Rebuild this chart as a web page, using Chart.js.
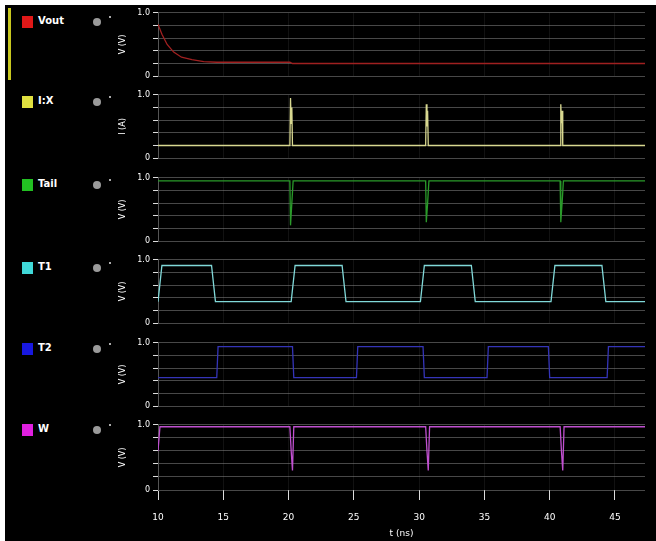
<!DOCTYPE html>
<html>
<head>
<meta charset="utf-8">
<script src="https://cdn.jsdelivr.net/npm/chart.js@4.4.0/dist/chart.umd.min.js"></script>
<style>
  html, body { margin: 0; padding: 0; background: #fff; }
  #frame { position: absolute; left: 0; top: 0; width: 656px; height: 541px; background: #000; overflow: hidden; }
  .edge { position: absolute; background: #fff; }
  canvas { position: absolute; left: 0; }
  .sw { position: absolute; left: 22px; width: 11px; height: 12px; }
  .name { position: absolute; left: 38px; color: #fff; font: bold 10px "DejaVu Sans", sans-serif; }
  .dot { position: absolute; left: 93px; width: 8px; height: 8px; border-radius: 50%; background: #9a9a9a; }
  .pip { position: absolute; left: 109px; width: 2px; height: 2px; background: #aaa; }
  #sel { position: absolute; left: 8px; top: 8px; width: 3px; height: 72px; background: #c8c820; }
</style>
</head>
<body>
<div id="frame">
  <div class="edge" style="left:0;top:0;width:5px;height:541px"></div>
  <div class="edge" style="left:0;top:0;width:656px;height:5px"></div>
  <div id="sel"></div>
</div>
<script>
// signal names and colours
const names = ["Vout", "I:X", "Tail", "T1", "T2", "W"];
const swatchColors = ["#e01818", "#e0e040", "#22c022", "#40d8d8", "#1818e0", "#e020e0"];
const traceColors = ["#a02020", "#d8d890", "#2a9a2a", "#80d8d8", "#3434b8", "#c050d0"];
const yTitles = ["V (V)", "I (A)", "V (V)", "V (V)", "V (V)", "V (V)"];

// time axis
const xTicks = [10, 15, 20, 25, 30, 35, 40, 45];
const xTickLabels = ["10", "15", "20", "25", "30", "35", "40", "45"];
const xMin = 10, xMax = 47.3;
const xTitle = "t (ns)";

// waveforms (time, value)
const redT = [10, 10.3, 10.7, 11.2, 11.8, 12.6, 13.5, 14.5, 20.1, 20.3, 47.3];
const redV = [0.82, 0.66, 0.5, 0.38, 0.3, 0.26, 0.23, 0.22, 0.22, 0.2, 0.2];

const yelT = [10, 20.1, 20.15, 20.2, 20.25, 20.3, 30.5, 30.55, 30.6, 30.65, 30.7, 40.8, 40.85, 40.9, 40.95, 41.0, 47.3];
const yelV = [0.2, 0.2, 0.95, 0.55, 0.8, 0.2, 0.2, 0.85, 0.5, 0.75, 0.2, 0.2, 0.85, 0.55, 0.75, 0.2, 0.2];

const grnT = [10, 20.1, 20.15, 20.25, 20.35, 30.5, 30.55, 30.65, 30.75, 40.8, 40.85, 40.95, 41.05, 47.3];
const grnV = [0.95, 0.95, 0.25, 0.6, 0.95, 0.95, 0.3, 0.6, 0.95, 0.95, 0.3, 0.6, 0.95, 0.95];

const cyaT = [10, 10.3, 14.1, 14.4, 20.2, 20.5, 24.1, 24.4, 30.1, 30.4, 34.0, 34.3, 40.1, 40.4, 44.0, 44.3, 47.3];
const cyaV = [0.34, 0.91, 0.91, 0.34, 0.34, 0.91, 0.91, 0.34, 0.34, 0.91, 0.91, 0.34, 0.34, 0.91, 0.91, 0.34, 0.34];

const bluT = [10, 14.5, 14.6, 20.3, 20.4, 25.2, 25.3, 30.3, 30.4, 35.2, 35.3, 39.9, 40.0, 44.4, 44.5, 47.3];
const bluV = [0.45, 0.45, 0.94, 0.94, 0.45, 0.45, 0.94, 0.94, 0.45, 0.45, 0.94, 0.94, 0.45, 0.45, 0.94, 0.94];

const magT = [10, 10.15, 20.1, 20.2, 20.3, 20.4, 30.5, 30.6, 30.7, 30.8, 40.8, 40.9, 41.0, 41.1, 47.3];
const magV = [0.6, 0.97, 0.97, 0.6, 0.3, 0.97, 0.97, 0.6, 0.3, 0.97, 0.97, 0.6, 0.3, 0.97, 0.97];

const times = [redT, yelT, grnT, cyaT, bluT, magT];
const values = [redV, yelV, grnV, cyaV, bluV, magV];

// layout: plot tops of each strip, legend row centres
const plotTops = [11, 93, 176, 258, 341, 423];
const legendY = [22, 102, 185, 268, 349, 430];
const plotH = 67;
const pad = 6;

const frame = document.getElementById("frame");
const font = { family: "DejaVu Sans", size: 8 };

for (let i = 0; i < names.length; i++) {
  // legend entry on the left
  const sw = document.createElement("div");
  sw.className = "sw";
  sw.style.top = legendY[i] - 6 + "px";
  sw.style.background = swatchColors[i];
  frame.appendChild(sw);

  const nm = document.createElement("div");
  nm.className = "name";
  nm.style.top = legendY[i] - 7 + "px";
  nm.textContent = names[i];
  frame.appendChild(nm);

  const dot = document.createElement("div");
  dot.className = "dot";
  dot.style.top = legendY[i] - 4 + "px";
  frame.appendChild(dot);

  const pip = document.createElement("div");
  pip.className = "pip";
  pip.style.top = legendY[i] - 6 + "px";
  frame.appendChild(pip);

  // one strip per signal
  const last = i === names.length - 1;
  const canvas = document.createElement("canvas");
  const h = last ? 541 - (plotTops[i] - pad) : plotH + 2 * pad;
  canvas.width = 656;
  canvas.height = h;
  canvas.style.top = plotTops[i] - pad + "px";
  frame.appendChild(canvas);

  const points = times[i].map((t, k) => ({ x: t, y: values[i][k] }));

  new Chart(canvas.getContext("2d"), {
    type: "line",
    data: {
      datasets: [
        {
          label: names[i],
          data: points,
          borderColor: traceColors[i],
          borderWidth: 1.3,
          pointRadius: 0,
          tension: 0,
        },
      ],
    },
    options: {
      responsive: false,
      animation: false,
      devicePixelRatio: 1,
      layout: { padding: { left: 118, right: 11, top: pad, bottom: last ? 0 : pad } },
      plugins: { legend: { display: false }, tooltip: { enabled: false } },
      scales: {
        x: {
          type: "linear",
          min: xMin,
          max: xMax,
          afterBuildTicks: (s) => {
            s.ticks = xTicks.map((v) => ({ value: v }));
          },
          afterFit: (s) => {
            s.height = last ? h - pad - plotH : 0;
          },
          ticks: {
            display: last,
            color: "#fff",
            font: { family: "DejaVu Sans", size: 9 },
            padding: 12,
            maxRotation: 0,
            callback: (v) => xTickLabels[xTicks.indexOf(v)],
          },
          grid: {
            color: "rgba(255,255,255,0.07)",
            drawTicks: last,
            tickLength: 10,
            tickColor: "#ddd",
          },
          border: { display: false },
          title: {
            display: last,
            text: xTitle,
            color: "#fff",
            font: { family: "DejaVu Sans", size: 9 },
            padding: { top: 0, bottom: 2 },
          },
        },
        y: {
          min: 0,
          max: 1,
          afterFit: (s) => {
            s.width = 40;
          },
          ticks: {
            stepSize: 0.2,
            color: "#fff",
            font: font,
            padding: 3,
            callback: (v) => (v === 1 ? "1.0" : v === 0 ? "0" : ""),
          },
          grid: {
            color: "rgba(160,160,160,0.45)",
            tickLength: 5,
            tickColor: "#ddd",
          },
          border: { color: "#555" },
          title: {
            display: true,
            text: yTitles[i],
            color: "#fff",
            font: font,
            padding: 0,
          },
        },
      },
    },
  });
}
</script>
</body>
</html>
